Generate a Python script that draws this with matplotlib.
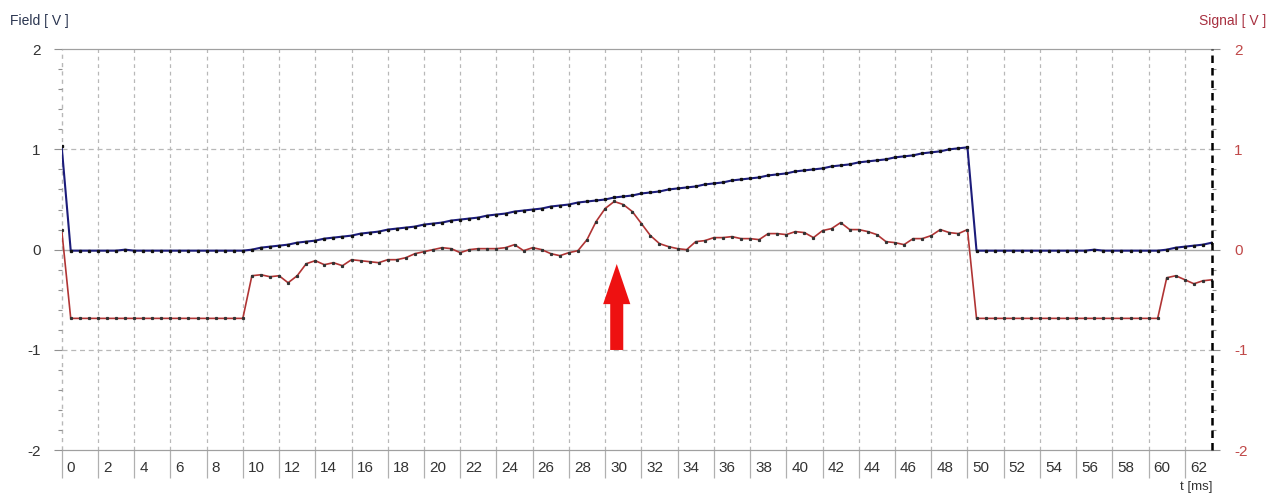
import numpy as np
import matplotlib
matplotlib.use("Agg")
import matplotlib.pyplot as plt
from matplotlib.transforms import ScaledTranslation

plt.rcParams["font.family"] = ["Liberation Sans", "DejaVu Sans"]

# sample grid: one point every 0.5 ms, 0 .. 63.5 ms
DT = 0.5
t = np.arange(128) * DT

# Field [V] (blue)
field = ([1.03]
         + [-0.01] * 6 + [0.00] + [-0.01] * 13
         + [0.00, 0.02, 0.03, 0.04, 0.05, 0.07, 0.08, 0.09, 0.11, 0.12,
            0.13, 0.14, 0.16, 0.17, 0.18, 0.20, 0.21, 0.22, 0.23, 0.25,
            0.26, 0.27, 0.29, 0.30, 0.31, 0.32, 0.34, 0.35, 0.36, 0.38,
            0.39, 0.40, 0.41, 0.43, 0.44, 0.45, 0.47, 0.48, 0.49, 0.50,
            0.52, 0.53, 0.54, 0.56, 0.57, 0.58, 0.60, 0.61, 0.62, 0.63,
            0.65, 0.66, 0.67, 0.69, 0.70, 0.71, 0.72, 0.74, 0.75, 0.76,
            0.78, 0.79, 0.80, 0.81, 0.83, 0.84, 0.85, 0.87, 0.88, 0.89,
            0.90, 0.92, 0.93, 0.94, 0.96, 0.97, 0.98, 1.00, 1.01, 1.02]
         + [-0.01] * 13 + [0.00] + [-0.01] * 7
         + [0.00, 0.02, 0.03, 0.04, 0.05, 0.07])

# Signal [V] (red)
signal = ([0.20]
          + [-0.685] * 20
          + [-0.26, -0.25, -0.27, -0.26, -0.33, -0.26, -0.14, -0.11, -0.15, -0.13,
             -0.16, -0.10, -0.11, -0.12, -0.13, -0.10, -0.10, -0.08, -0.04, -0.02,
             0.00, 0.02, 0.01, -0.03, 0.00, 0.01, 0.01, 0.01, 0.02, 0.05,
             -0.01, 0.02, 0.00, -0.04, -0.06, -0.03, -0.01, 0.10, 0.28, 0.41,
             0.48, 0.45, 0.38, 0.26, 0.14, 0.06, 0.03, 0.01, 0.00, 0.08,
             0.09, 0.12, 0.12, 0.13, 0.11, 0.11, 0.10, 0.16, 0.16, 0.15,
             0.18, 0.17, 0.12, 0.19, 0.21, 0.27, 0.20, 0.20, 0.18, 0.15,
             0.08, 0.07, 0.05, 0.11, 0.11, 0.14, 0.20, 0.17, 0.16, 0.20]
          + [-0.685] * 21
          + [-0.28, -0.26, -0.30, -0.34, -0.31, -0.30])

X_TICKS = list(range(0, 63, 2))
Y_TICKS = [-2, -1, 0, 1, 2]

FIELD_C = "#1c1c7a"
SIGNAL_C = "#b03434"
GRID_C = "#b8b8b8"

fig = plt.figure(figsize=(12.69, 4.93), dpi=100)
ax = fig.add_axes([0.0486, 0.0866, 0.9065, 0.814])
ax2 = ax.twinx()

ax.set_xlim(0, 63.5)
ax.set_ylim(-2, 2)
ax2.set_ylim(-2, 2)

# grid
ax.axhline(0, color="#a8a8a8", lw=1.0, zorder=1)
for yv in (-1, 1):
    ax.axhline(yv, color=GRID_C, lw=0.9, ls=(0, (4, 3)), zorder=1)
for xv in X_TICKS[1:]:
    ax.axvline(xv, color=GRID_C, lw=0.9, ls=(0, (3, 3)), zorder=1)

# curves
ax.plot(t, field, color=FIELD_C, lw=1.5, zorder=4,
        marker="s", ms=1.4, mfc="#111111", mec="#111111")
ax2.plot(t, signal, color=SIGNAL_C, lw=1.2, zorder=4,
         marker="s", ms=1.3, mfc="#333333", mec="#333333")

# cursor line at right edge
ax2.axvline(63.5, color="black", lw=1.8, ls=(0, (3, 2)), zorder=5, clip_on=False)

# arrow pointing at the resonance
ax2.arrow(30.64, -1.0, 0, 0.857, width=0.72, head_width=1.5, head_length=0.40,
          length_includes_head=True, color="#ee1111", lw=0, zorder=6)

# spines
for a in (ax, ax2):
    a.spines["top"].set_color("#a0a0a0")
    a.spines["bottom"].set_color("#a0a0a0")
    a.spines["left"].set_visible(False)
    a.spines["right"].set_visible(False)
ax.axvline(0, color=GRID_C, lw=1.0, ls=(0, (3, 3)), zorder=1, clip_on=False)

# y ticks
ax.set_yticks(Y_TICKS)
ax.set_yticklabels([str(v) for v in Y_TICKS])
ax.set_yticks(np.linspace(-2, 2, 21), minor=True)
ax.tick_params(axis="y", which="major", length=6, width=0.8, color="#909090",
               labelsize=11, labelcolor="#333333", pad=9)
ax.tick_params(axis="y", which="minor", length=3, width=0.8, color="#909090")

ax2.set_yticks(Y_TICKS)
ax2.set_yticklabels([str(v) for v in Y_TICKS])
ax2.set_yticks(np.linspace(-2, 2, 21), minor=True)
ax2.tick_params(axis="y", which="major", length=6, width=0.8, color="#909090",
                labelsize=11, labelcolor="#c04848", pad=10)
ax2.tick_params(axis="y", which="minor", length=3, width=0.8, color="#909090")

# x ticks: bar below the axis, label to the right of the bar
ax.set_xticks(X_TICKS)
ax.set_xticklabels([str(v) for v in X_TICKS])
ax.tick_params(axis="x", length=20, width=0.9, color="#b0b0b0",
               labelsize=11, labelcolor="#333333", pad=-7)
shift = ScaledTranslation(5 / 100, 0, fig.dpi_scale_trans)
for lab in ax.get_xticklabels():
    lab.set_ha("left")
    lab.set_va("center")
    lab.set_transform(lab.get_transform() + shift)

# axis titles
fig.text(10 / 1269, 1 - 21 / 493, "Field [ V ]", fontsize=10, color="#2a3550",
         ha="left", va="center")
fig.text(1266 / 1269, 1 - 21 / 493, "Signal [ V ]", fontsize=10, color="#a83040",
         ha="right", va="center")
fig.text(1212 / 1269, 1 - 487 / 493, "t [ms]", fontsize=9.5, color="#333333",
         ha="right", va="center")

fig.savefig("out.png", dpi=100)
